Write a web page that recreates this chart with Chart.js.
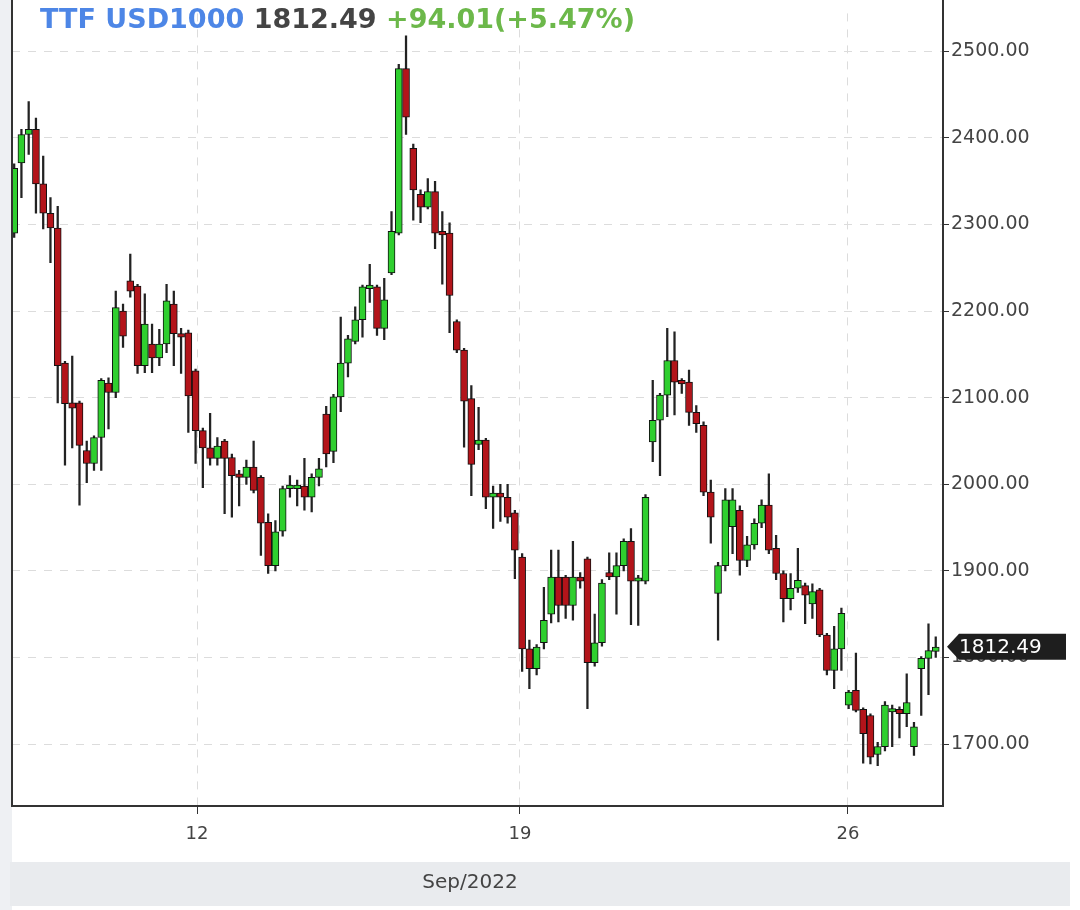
<!DOCTYPE html>
<html>
<head>
<meta charset="utf-8">
<script src="https://cdn.jsdelivr.net/npm/chart.js@4.4.0/dist/chart.umd.min.js"></script>
<style>
  html, body { margin: 0; padding: 0; background: #fff; }
  #wrap { width: 1080px; height: 910px; }
</style>
</head>
<body>
<div id="wrap"><canvas id="chart" width="1080" height="910"></canvas></div>
<script>
// Hourly candles, TTF USD1000, Sep 2022
const opens = [
  2290, 2371, 2404, 2410, 2347, 2313, 2296, 2140, 2094, 2094, 2039, 2024, 2054, 2117, 2106, 2200,
  2235, 2229, 2137, 2162, 2146, 2162, 2208, 2174, 2175, 2131, 2062, 2042, 2030, 2050, 2031, 2012,
  2008, 2020, 2008, 1956, 1906, 1946, 1995, 1995, 1998, 1985, 2008, 2081,
  2038, 2101, 2140, 2165, 2190, 2226, 2228, 2180, 2244, 2290, 2480, 2388, 2335, 2320, 2338, 2292,
  2290, 2188, 2155, 2099, 2046, 2051, 1985, 1990, 1985, 1967, 1916, 1810, 1787, 1817, 1850, 1893,
  1893, 1860, 1893, 1914, 1794, 1817, 1898, 1893, 1906, 1934, 1888, 1888,
  2049, 2074, 2103, 2143, 2120, 2118, 2083, 2068, 1991, 1874, 1906, 1951, 1970, 1912, 1930, 1955,
  1976, 1926, 1897, 1868, 1880, 1883, 1862, 1878, 1826, 1785, 1810, 1745, 1762, 1740, 1733, 1688,
  1697, 1737, 1740, 1735, 1697, 1787, 1799, 1807
];
const highs = [
  2370, 2410, 2442, 2423, 2379, 2331, 2321, 2142, 2148, 2096, 2050, 2056, 2122, 2123, 2223, 2208,
  2266, 2231, 2220, 2185, 2179, 2231, 2223, 2180, 2178, 2133, 2065, 2082, 2054, 2052, 2035, 2016,
  2028, 2050, 2010, 1966, 1958, 1998, 2010, 2005, 2030, 2012, 2030, 2090,
  2104, 2193, 2172, 2205, 2230, 2254, 2230, 2238, 2315, 2485, 2518, 2393, 2340, 2353, 2350, 2315,
  2302, 2190, 2157, 2114, 2089, 2053, 1998, 2000, 2000, 1970, 1920, 1820, 1815, 1881, 1924, 1924,
  1895, 1934, 1898, 1916, 1850, 1890, 1921, 1921, 1937, 1949, 1895, 1988,
  2120, 2105, 2180, 2176, 2122, 2132, 2091, 2072, 2005, 1910, 1995, 1995, 1975, 1940, 1960, 1982,
  2012, 1941, 1900, 1897, 1926, 1886, 1885, 1880, 1828, 1836, 1857, 1762, 1805, 1742, 1735, 1702,
  1749, 1745, 1743, 1781, 1725, 1801, 1839, 1824
];
const lows = [
  2285, 2331, 2381, 2313, 2295, 2256, 2094, 2022, 2042, 1976, 2002, 2016, 2016, 2064, 2100, 2158,
  2216, 2128, 2129, 2129, 2137, 2152, 2137, 2128, 2060, 2024, 1996, 2022, 2022, 1966, 1962, 1975,
  2000, 1990, 1918, 1897, 1900, 1940, 1985, 1975, 1970, 1968, 1998, 2020,
  2025, 2084, 2124, 2162, 2170, 2210, 2172, 2167, 2242, 2288, 2404, 2305, 2302, 2318, 2272, 2231,
  2175, 2152, 2043, 1987, 2040, 1972, 1949, 1957, 1955, 1891, 1784, 1764, 1780, 1810, 1840, 1841,
  1845, 1843, 1880, 1741, 1790, 1813, 1890, 1850, 1900, 1838, 1837, 1885,
  2026, 2010, 2078, 2080, 2105, 2068, 2060, 1987, 1932, 1820, 1900, 1920, 1895, 1905, 1925, 1950,
  1920, 1890, 1841, 1855, 1875, 1839, 1845, 1824, 1780, 1764, 1785, 1741, 1737, 1678, 1677, 1675,
  1692, 1697, 1707, 1720, 1687, 1733, 1757, 1800
];
const closes = [
  2365, 2404, 2410, 2347, 2313, 2296, 2137, 2093, 2088, 2045, 2024, 2054, 2120, 2106, 2204, 2171,
  2223, 2137, 2185, 2146, 2162, 2212, 2174, 2170, 2102, 2062, 2042, 2030, 2044, 2030, 2010, 2008,
  2020, 1993, 1955, 1906, 1945, 1995, 1998, 1999, 1985, 2008, 2018, 2035,
  2101, 2140, 2168, 2190, 2228, 2230, 2180, 2213, 2292, 2480, 2424, 2340, 2320, 2338, 2290, 2288,
  2218, 2155, 2096, 2023, 2051, 1985, 1990, 1985, 1962, 1924, 1810, 1787, 1812, 1843, 1893, 1860,
  1860, 1893, 1888, 1794, 1817, 1886, 1893, 1906, 1934, 1888, 1891, 1985,
  2074, 2103, 2143, 2118, 2116, 2083, 2070, 1991, 1962, 1906, 1982, 1982, 1912, 1930, 1955, 1976,
  1924, 1897, 1868, 1880, 1889, 1872, 1876, 1826, 1785, 1810, 1851, 1760, 1739, 1712, 1685, 1697,
  1745, 1740, 1735, 1748, 1720, 1799, 1808, 1812
];

// Weekly axis labels and where they fall on the candle index scale
const dayLabels = ["12", "19", "26"];
const dayTickPos = [25.2, 69.7, 114.9];
const yTicks = [1700, 1800, 1900, 2000, 2100, 2200, 2300, 2400, 2500];

const lastPrice = 1812.49;
const change = "+94.01(+5.47%)";

const UP = "#2fcf2f";
const DOWN = "#b3141a";

const bodies = opens.map((o, i) => {
  const c = closes[i];
  let lo = Math.min(o, c), hi = Math.max(o, c);
  if (hi - lo < 4) hi = lo + 4;
  return { x: i, y: [lo, hi] };
});
const wicks = opens.map((o, i) => ({ x: i, y: [lows[i], highs[i]] }));
const bodyColors = opens.map((o, i) => closes[i] >= o ? UP : DOWN);

// Extra drawing: title line, price marker, left strip, bottom band
const decor = {
  id: "decor",
  beforeDraw(chart) {
    const { ctx, chartArea } = chart;
    ctx.save();
    ctx.fillStyle = "#eef0f3";
    ctx.fillRect(0, 0, chartArea.left, 910);
    ctx.fillStyle = "#e9ebee";
    ctx.fillRect(10, 862, 1060, 44);
    ctx.restore();
  },
  afterDraw(chart) {
    const { ctx, chartArea, scales } = chart;
    ctx.save();
    // left frame line
    ctx.strokeStyle = "#333";
    ctx.lineWidth = 2;
    ctx.beginPath();
    ctx.moveTo(chartArea.left, 0);
    ctx.lineTo(chartArea.left, chartArea.bottom);
    ctx.moveTo(chartArea.right, 0);
    ctx.lineTo(chartArea.right, chartArea.top);
    ctx.stroke();

    // title
    ctx.font = "bold 27px 'DejaVu Sans'";
    ctx.textBaseline = "middle";
    let x = 40;
    const parts = [["TTF USD1000 ", "#4d86e6"], [lastPrice.toFixed(2) + " ", "#444"], [change, "#6cb84a"]];
    parts.forEach(([t, col]) => {
      ctx.fillStyle = col;
      ctx.fillText(t, x, 21);
      x += ctx.measureText(t).width;
    });

    // last price marker
    const y = scales.y.getPixelForValue(lastPrice);
    const x0 = chartArea.right + 4;
    ctx.fillStyle = "#1e1e1e";
    ctx.beginPath();
    ctx.moveTo(x0, y);
    ctx.lineTo(x0 + 12, y - 13);
    ctx.lineTo(1066, y - 13);
    ctx.lineTo(1066, y + 13);
    ctx.lineTo(x0 + 12, y + 13);
    ctx.closePath();
    ctx.fill();
    ctx.fillStyle = "#fff";
    ctx.font = "20px 'DejaVu Sans'";
    ctx.textAlign = "left";
    ctx.fillText(lastPrice.toFixed(2), x0 + 12, y + 1);

    // month label
    ctx.fillStyle = "#444";
    ctx.font = "20px 'DejaVu Sans'";
    ctx.textAlign = "center";
    ctx.fillText("Sep/2022", 470, 883);
    ctx.restore();
  }
};

new Chart(document.getElementById("chart"), {
  type: "bar",
  data: {
    datasets: [
      {
        data: wicks,
        backgroundColor: "#222",
        barThickness: 1.6,
        grouped: false,
        order: 2
      },
      {
        data: bodies,
        backgroundColor: bodyColors,
        borderColor: "#111",
        borderWidth: 1,
        borderSkipped: false,
        barThickness: 7,
        grouped: false,
        order: 1
      }
    ]
  },
  options: {
    responsive: false,
    animation: false,
    layout: { padding: { left: 12, top: 0, right: 0, bottom: 0 } },
    plugins: { legend: { display: false }, tooltip: { enabled: false } },
    scales: {
      x: {
        type: "linear",
        min: -0.3,
        max: 128,
        offset: false,
        afterBuildTicks(axis) {
          axis.ticks = dayTickPos.map(v => ({ value: v }));
        },
        afterFit(axis) { axis.height = 104; },
        ticks: {
          callback(v) { return dayLabels[dayTickPos.indexOf(v)]; },
          color: "#444",
          font: { family: "DejaVu Sans", size: 18 },
          padding: 10,
          maxRotation: 0
        },
        grid: { offset: false, color: "#dcdcdc", tickLength: 8, tickColor: "#333" },
        border: { display: true, color: "#333", width: 2, dash: [8, 8] }
      },
      y: {
        position: "right",
        min: 1628.5,
        max: 2543.8,
        afterBuildTicks(axis) {
          axis.ticks = yTicks.map(v => ({ value: v }));
        },
        afterFit(axis) { axis.width = 137; },
        ticks: {
          callback(v) { return v.toFixed(2); },
          color: "#444",
          font: { family: "DejaVu Sans", size: 19 },
          padding: 2
        },
        grid: { color: "#dcdcdc", tickLength: 6, tickColor: "#333" },
        border: { display: true, color: "#333", width: 2, dash: [8, 8] }
      }
    }
  },
  plugins: [decor]
});
</script>
</body>
</html>
